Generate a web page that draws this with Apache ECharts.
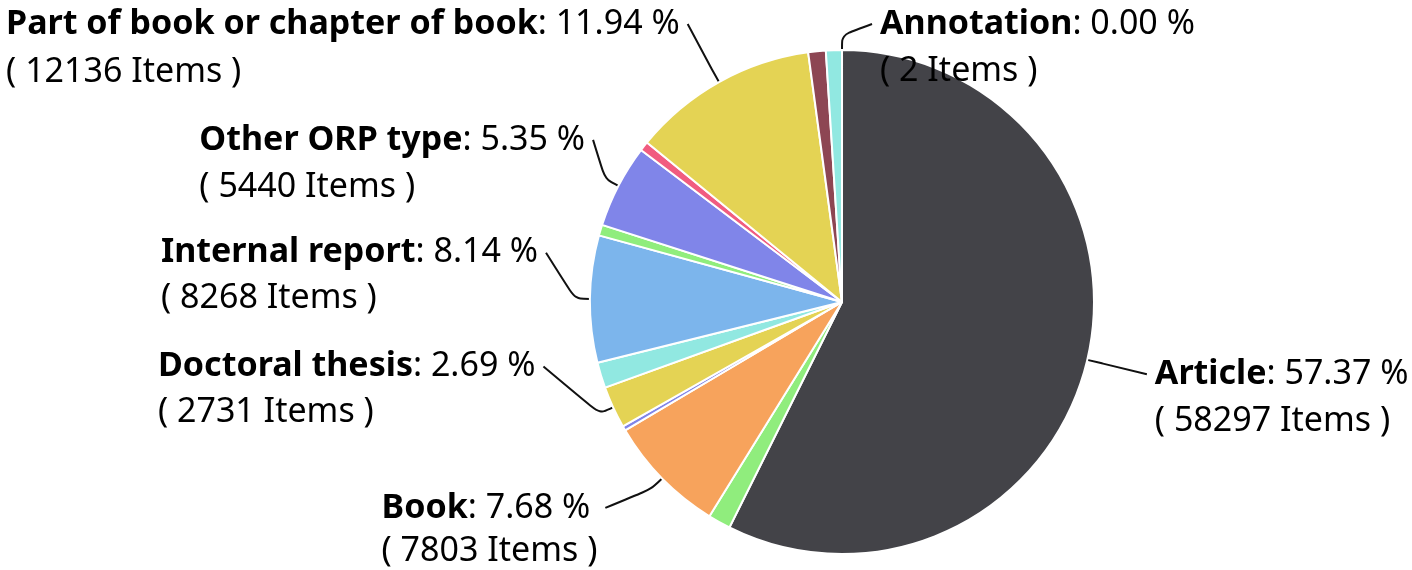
<!DOCTYPE html>
<html>
<head>
<meta charset="utf-8">
<script src="https://cdn.jsdelivr.net/npm/echarts@6/dist/echarts.min.js"></script>
<style>
html,body{margin:0;padding:0;background:#fff;}
#chart{width:1412px;height:570px;}
</style>
</head>
<body>
<div id="chart"></div>
<script>
// ---- data ----
const categories = [
  'Annotation', 'Article', 'Unlabelled type 1', 'Book', 'Unlabelled type 2',
  'Doctoral thesis', 'Unlabelled type 3', 'Internal report', 'Unlabelled type 4',
  'Other ORP type', 'Unlabelled type 5', 'Part of book or chapter of book',
  'Unlabelled type 6', 'Unlabelled type 7'
];
const itemCounts = [2, 58297, 1470, 7803, 300, 2731, 1670, 8268, 700, 5440, 620, 12136, 1139, 1040];
const labelledCategories = ['Annotation', 'Article', 'Book', 'Doctoral thesis', 'Internal report', 'Other ORP type', 'Part of book or chapter of book'];

// ---- styling ----
const sliceColors = ['#7cb5ec', '#434348', '#90ed7d', '#f7a35c', '#8085e9', '#e4d354', '#91e8e1',
  '#7cb5ec', '#90ed7d', '#8085e9', '#f15c80', '#e4d354', '#8d4653', '#91e8e1'];
const FONT = 'Noto Sans';
const FS = 34;
const LH = 47;
// label placement: length2 of the leader line, how far the label's first line rises above the natural end point, line height
const labelPlacement = {
  'Annotation': { length2: 30, rise: 11, lh: 47 },
  'Article': { length2: 45, rise: -11, lh: 47 },
  'Book': { length2: 46, rise: -19, lh: 43 },
  'Doctoral thesis': { length2: 56, rise: 47, lh: 46 },
  'Internal report': { length2: 29, rise: 46, lh: 46 },
  'Other ORP type': { length2: 12, rise: 39, lh: 47 },
  'Part of book or chapter of book': { length2: 24, rise: 45, lh: 48 }
};

const data = categories.map((name, i) => {
  const labelled = labelledCategories.indexOf(name) >= 0;
  const item = {
    name: name,
    value: itemCounts[i],
    itemStyle: { color: sliceColors[i] },
    label: { show: labelled },
    labelLine: { show: labelled }
  };
  if (labelled) {
    const pl = labelPlacement[name];
    item.labelLine.length = 15;
    item.labelLine.length2 = pl.length2;
    item.label.rich = { b: { lineHeight: pl.lh }, v: { lineHeight: pl.lh } };
  }
  return item;
});

const chart = echarts.init(document.getElementById('chart'), null, { renderer: 'canvas' });
chart.setOption({
  animation: false,
  backgroundColor: '#ffffff',
  series: [{
    type: 'pie',
    center: [842, 302],
    radius: 252,
    startAngle: 90,
    clockwise: true,
    avoidLabelOverlap: false,
    minShowLabelAngle: 0,
    data: data,
    itemStyle: { borderColor: '#ffffff', borderWidth: 2 },
    label: {
      position: 'outside',
      distanceToLabelLine: 8,
      formatter: p => '{b|' + p.name + '}{v|: ' + p.percent.toFixed(2) + ' %}\n{v|( ' + p.value + ' Items )}',
      rich: {
        b: { fontFamily: FONT, fontSize: FS, fontWeight: 'bold', color: '#000', align: 'left', lineHeight: LH },
        v: { fontFamily: FONT, fontSize: FS, color: '#000', align: 'left', lineHeight: LH }
      }
    },
    labelLine: {
      lineStyle: { color: '#111', width: 2 },
      smooth: 0.3
    },
    labelLayout: function (p) {
      const name = categories[p.dataIndex];
      const pl = labelPlacement[name];
      const pts = p.labelLinePoints;
      if (!pl || !pts) return {};
      const endY = pts[2][1] - pl.rise;
      return {
        dy: -pl.rise + pl.lh / 2,
        labelLinePoints: [pts[0], pts[1], [pts[2][0], endY]]
      };
    }
  }]
});
</script>
</body>
</html>
